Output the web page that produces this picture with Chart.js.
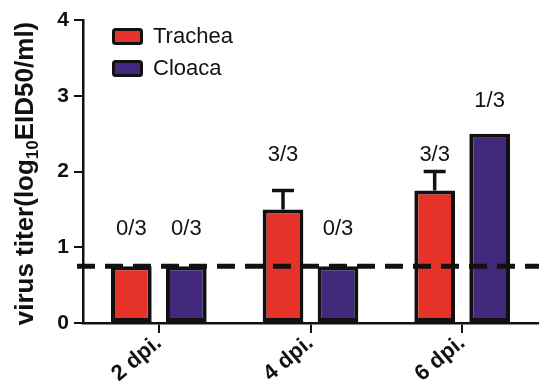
<!DOCTYPE html>
<html>
<head>
<meta charset="utf-8">
<script src="https://cdn.jsdelivr.net/npm/chart.js@4.4.1/dist/chart.umd.min.js"></script>
<style>
  html, body { margin: 0; padding: 0; background: #fff; }
  canvas { display: block; }
</style>
</head>
<body>
<canvas id="titer-chart" width="539" height="385"></canvas>
<script>
// Chart data
const days = ['2 dpi.', '4 dpi.', '6 dpi.'];
const tracheaTiter = [0.75, 1.5, 1.75];
const tracheaError = [0, 0.25, 0.25];
const cloacaTiter = [0.75, 0.75, 2.5];
const cloacaError = [0, 0, 0];
// positive birds / total, and the titer level the note sits at
const tracheaNote = ['0/3', '3/3', '3/3'];
const tracheaNoteAt = [1.24, 2.22, 2.22];
const cloacaNote = ['0/3', '0/3', '1/3'];
const cloacaNoteAt = [1.24, 1.24, 2.93];
const detectionLimit = 0.75;
const yTicks = [0, 1, 2, 3, 4];

const ink = '#111';

// error bars (upper only) + notes above bars
const barExtras = {
  id: 'barExtras',
  afterDatasetsDraw(chart) {
    const ctx = chart.ctx;
    const y = chart.scales.y;
    chart.data.datasets.forEach((ds, di) => {
      const meta = chart.getDatasetMeta(di);
      meta.data.forEach((bar, i) => {
        const err = ds.errors[i];
        if (err > 0) {
          const top = y.getPixelForValue(ds.data[i] + err);
          ctx.save();
          ctx.strokeStyle = ink;
          ctx.lineWidth = 3.5;
          ctx.beginPath();
          ctx.moveTo(bar.x, bar.y);
          ctx.lineTo(bar.x, top);
          ctx.moveTo(bar.x - 11, top);
          ctx.lineTo(bar.x + 11, top);
          ctx.stroke();
          ctx.restore();
        }
        ctx.save();
        ctx.fillStyle = ink;
        ctx.font = '22px "Liberation Sans", Arial, sans-serif';
        ctx.textAlign = 'center';
        ctx.textBaseline = 'middle';
        ctx.fillText(ds.notes[i], bar.x, y.getPixelForValue(ds.noteAt[i]));
        ctx.restore();
      });
    });

    // dashed detection limit
    const area = chart.chartArea;
    const ly = y.getPixelForValue(detectionLimit);
    ctx.save();
    ctx.strokeStyle = ink;
    ctx.lineWidth = 5;
    ctx.setLineDash([18, 10]);
    ctx.beginPath();
    ctx.moveTo(area.left - 6, ly);
    ctx.lineTo(chart.width, ly);
    ctx.stroke();
    ctx.restore();
  }
};

// legend inside the plot + y title with subscript
const decorations = {
  id: 'decorations',
  afterDraw(chart) {
    const ctx = chart.ctx;
    const area = chart.chartArea;
    chart.data.datasets.forEach((ds, i) => {
      const bx = area.left + 29;
      const by = area.top + 8 + i * 32;
      ctx.save();
      ctx.fillStyle = ds.backgroundColor;
      ctx.strokeStyle = ink;
      ctx.lineWidth = 3;
      ctx.beginPath();
      ctx.roundRect(bx + 1.5, by + 1.5, 28, 14, 2);
      ctx.fill();
      ctx.stroke();
      ctx.fillStyle = ink;
      ctx.font = '22px "Liberation Sans", Arial, sans-serif';
      ctx.textBaseline = 'middle';
      ctx.fillText(ds.label, bx + 41, by + 9);
      ctx.restore();
    });

    const main1 = 'virus titer(log';
    const sub = '10';
    const main2 = 'EID50/ml)';
    const bigFont = 'bold 26px "Liberation Sans", Arial, sans-serif';
    const smallFont = 'bold 17px "Liberation Sans", Arial, sans-serif';
    ctx.save();
    ctx.font = bigFont;
    const w1 = ctx.measureText(main1).width;
    const w3 = ctx.measureText(main2).width;
    ctx.font = smallFont;
    const w2 = ctx.measureText(sub).width;
    const total = w1 + w2 + w3;
    ctx.translate(26, (area.top + area.bottom) / 2 + 2);
    ctx.rotate(-Math.PI / 2);
    ctx.fillStyle = ink;
    ctx.textBaseline = 'middle';
    let x = -total / 2;
    ctx.font = bigFont;
    ctx.fillText(main1, x, 0);
    x += w1;
    ctx.font = smallFont;
    ctx.fillText(sub, x, 7);
    x += w2;
    ctx.font = bigFont;
    ctx.fillText(main2, x, 0);
    ctx.restore();
  }
};

new Chart(document.getElementById('titer-chart'), {
  type: 'bar',
  data: {
    labels: days,
    datasets: [
      {
        label: 'Trachea',
        data: tracheaTiter,
        errors: tracheaError,
        notes: tracheaNote,
        noteAt: tracheaNoteAt,
        backgroundColor: '#e5332a',
        borderColor: ink,
        borderWidth: 4,
        borderSkipped: false
      },
      {
        label: 'Cloaca',
        data: cloacaTiter,
        errors: cloacaError,
        notes: cloacaNote,
        noteAt: cloacaNoteAt,
        backgroundColor: '#42287a',
        borderColor: ink,
        borderWidth: 4,
        borderSkipped: false
      }
    ]
  },
  options: {
    responsive: false,
    animation: false,
    devicePixelRatio: 1,
    categoryPercentage: 0.725,
    barPercentage: 0.74,
    layout: { padding: { top: 20, right: 1, left: 0, bottom: 0 } },
    plugins: {
      legend: { display: false },
      tooltip: { enabled: false }
    },
    scales: {
      x: {
        grid: { offset: false, drawOnChartArea: false, drawTicks: true, tickLength: 10, color: ink, lineWidth: 2 },
        border: { color: ink, width: 2.5 },
        ticks: {
          color: ink,
          font: { family: '"Liberation Sans", Arial, sans-serif', size: 22, weight: 'bold' },
          minRotation: 40,
          maxRotation: 40,
          padding: -3
        },
        afterFit(scale) { scale.height = 62; }
      },
      y: {
        min: 0,
        max: 4,
        afterBuildTicks(scale) { scale.ticks = yTicks.map(v => ({ value: v })); },
        grid: { drawOnChartArea: false, drawTicks: true, tickLength: 9, color: ink, lineWidth: 2 },
        border: { color: ink, width: 2.5 },
        ticks: {
          color: ink,
          font: { family: '"Liberation Sans", Arial, sans-serif', size: 21, weight: 'bold' },
          padding: 5
        },
        afterFit(scale) { scale.width = 83; }
      }
    }
  },
  plugins: [barExtras, decorations]
});
</script>
</body>
</html>
